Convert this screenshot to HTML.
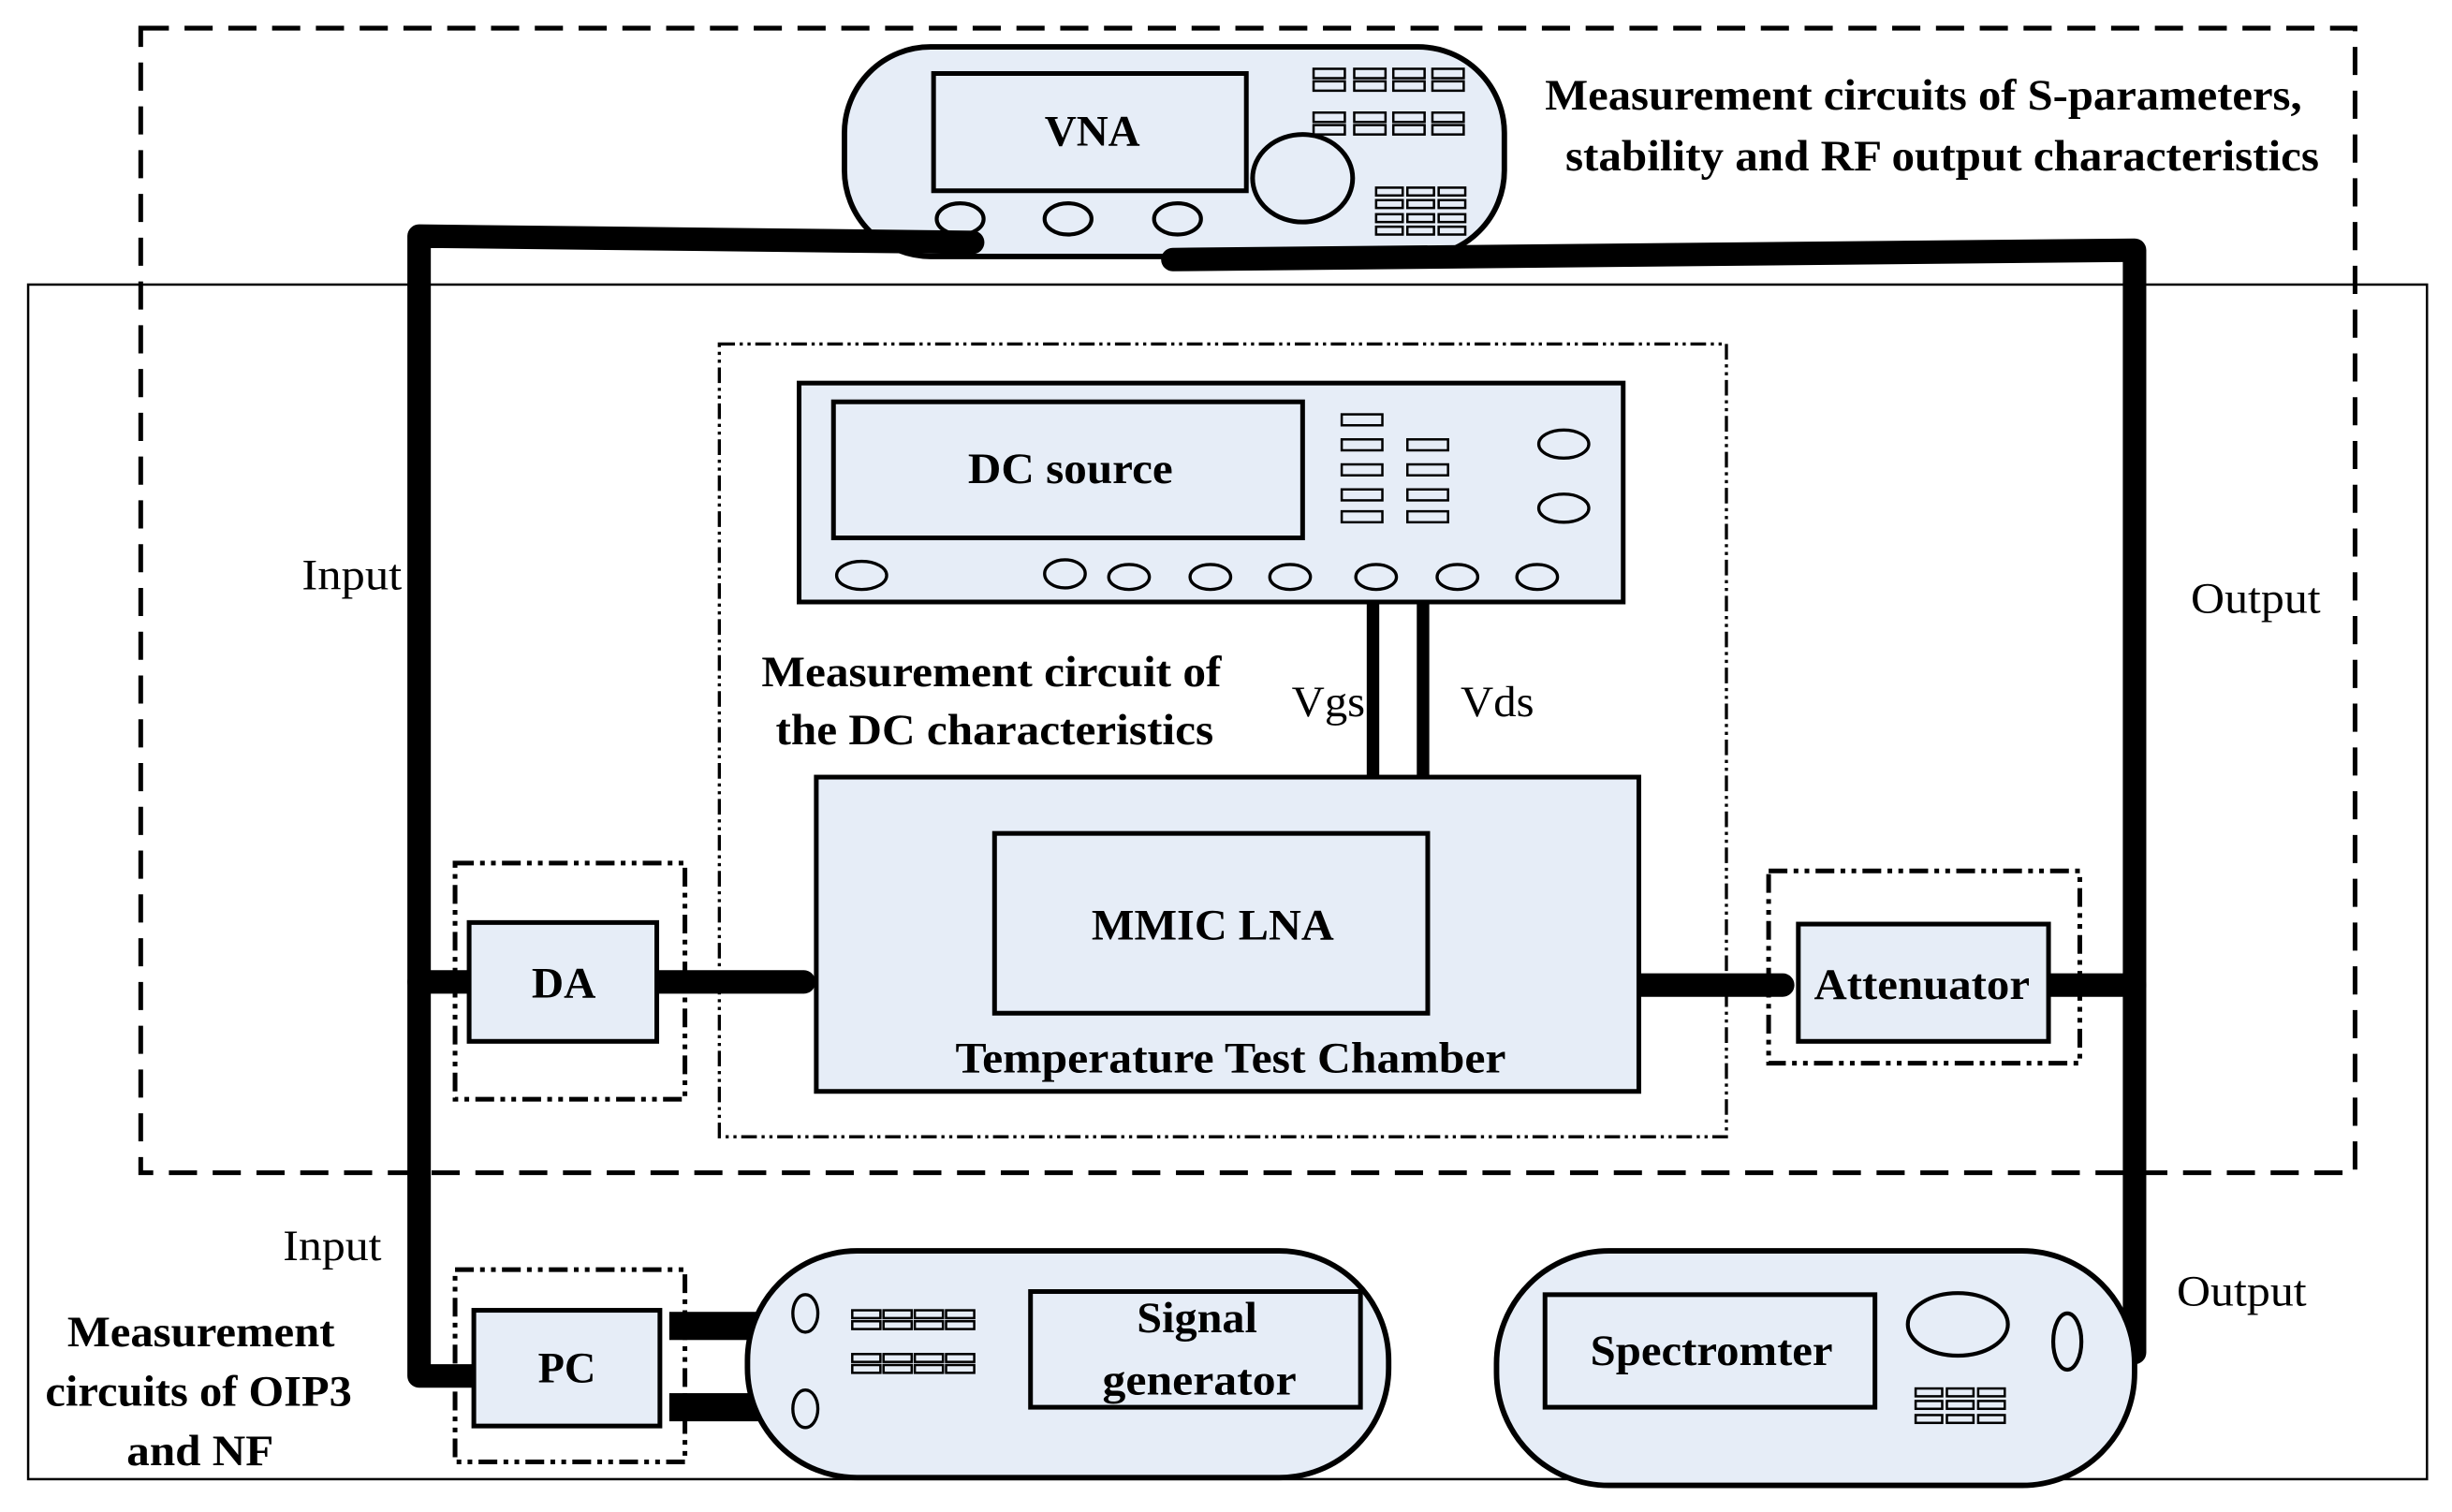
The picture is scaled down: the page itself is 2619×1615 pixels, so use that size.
<!DOCTYPE html>
<html><head><meta charset="utf-8"><style>html,body{margin:0;padding:0;background:#fff}svg{display:block}</style></head><body>
<svg width="2619" height="1615" viewBox="0 0 1568 967" preserveAspectRatio="none" xmlns="http://www.w3.org/2000/svg" font-family="Liberation Serif, serif">
<rect x="18" y="182" width="1534" height="764" fill="none" stroke="#000" stroke-width="1.5"/>
<rect x="90" y="18" width="1416" height="732" fill="none" stroke="#000" stroke-width="3" stroke-dasharray="18,10"/>
<!-- VNA -->
<rect x="540" y="30" width="422" height="134" rx="55" fill="#e6edf7" stroke="#000" stroke-width="3.5"/>
<rect x="597" y="47" width="200" height="75" fill="#e6edf7" stroke="#000" stroke-width="3"/>
<text x="668" y="93" font-size="28" font-weight="bold" textLength="61" lengthAdjust="spacingAndGlyphs">VNA</text>
<g fill="none" stroke="#000" stroke-width="1.5">
<rect x="840" y="44" width="20" height="6"/><rect x="866" y="44" width="20" height="6"/><rect x="891" y="44" width="20" height="6"/><rect x="916" y="44" width="20" height="6"/>
<rect x="840" y="52" width="20" height="6"/><rect x="866" y="52" width="20" height="6"/><rect x="891" y="52" width="20" height="6"/><rect x="916" y="52" width="20" height="6"/>
<rect x="840" y="72" width="20" height="6"/><rect x="866" y="72" width="20" height="6"/><rect x="891" y="72" width="20" height="6"/><rect x="916" y="72" width="20" height="6"/>
<rect x="840" y="80" width="20" height="6"/><rect x="866" y="80" width="20" height="6"/><rect x="891" y="80" width="20" height="6"/><rect x="916" y="80" width="20" height="6"/>
<rect x="880" y="120" width="17" height="5"/><rect x="900" y="120" width="17" height="5"/><rect x="920" y="120" width="17" height="5"/>
<rect x="880" y="128" width="17" height="5"/><rect x="900" y="128" width="17" height="5"/><rect x="920" y="128" width="17" height="5"/>
<rect x="880" y="137" width="17" height="5"/><rect x="900" y="137" width="17" height="5"/><rect x="920" y="137" width="17" height="5"/>
<rect x="880" y="145" width="17" height="5"/><rect x="900" y="145" width="17" height="5"/><rect x="920" y="145" width="17" height="5"/>
</g>
<ellipse cx="833" cy="114" rx="32" ry="28" fill="none" stroke="#000" stroke-width="3"/>
<g fill="none" stroke="#000" stroke-width="2.5"><ellipse cx="614" cy="140" rx="15" ry="10"/><ellipse cx="683" cy="140" rx="15" ry="10"/><ellipse cx="753" cy="140" rx="15" ry="10"/></g>
<text x="988" y="70" font-size="28" font-weight="bold" textLength="484" lengthAdjust="spacingAndGlyphs">Measurement circuits of S-parameters,</text>
<text x="1001" y="109" font-size="28" font-weight="bold" textLength="482" lengthAdjust="spacingAndGlyphs">stability and RF output characteristics</text>
<!-- thick lines -->
<g fill="none" stroke="#000" stroke-width="15" stroke-linejoin="round" stroke-linecap="round">
<path d="M622,155 L268,151 L268,880 L303,880"/>
<path d="M268,628 L300,628"/>
<path d="M750,166 L1365,160 L1365,865"/>
<path d="M1310,630 L1365,630"/>
<path d="M420,628 L514,628"/>
<path d="M1048,630 L1140,630"/>
</g>
<!-- DC box -->
<rect x="460" y="220" width="644" height="507" fill="none" stroke="#000" stroke-width="2" stroke-dasharray="10,3,2,3,2,3"/>
<rect x="511" y="245" width="527" height="140" fill="#e6edf7" stroke="#000" stroke-width="3"/>
<rect x="533" y="257" width="300" height="87" fill="#e6edf7" stroke="#000" stroke-width="3"/>
<text x="619" y="309" font-size="28" font-weight="bold" textLength="131" lengthAdjust="spacingAndGlyphs">DC source</text>
<g fill="none" stroke="#000" stroke-width="1.5">
<rect x="858" y="265" width="26" height="7"/><rect x="858" y="281" width="26" height="7"/><rect x="858" y="297" width="26" height="7"/><rect x="858" y="313" width="26" height="7"/><rect x="858" y="327" width="26" height="7"/>
<rect x="900" y="281" width="26" height="7"/><rect x="900" y="297" width="26" height="7"/><rect x="900" y="313" width="26" height="7"/><rect x="900" y="327" width="26" height="7"/>
</g>
<g fill="none" stroke="#000" stroke-width="2">
<ellipse cx="1000" cy="284" rx="16" ry="9"/><ellipse cx="1000" cy="325" rx="16" ry="9"/>
<ellipse cx="551" cy="368" rx="16" ry="9"/><ellipse cx="681" cy="367" rx="13" ry="9"/><ellipse cx="722" cy="369" rx="13" ry="8"/><ellipse cx="774" cy="369" rx="13" ry="8"/><ellipse cx="825" cy="369" rx="13" ry="8"/><ellipse cx="880" cy="369" rx="13" ry="8"/><ellipse cx="932" cy="369" rx="13" ry="8"/><ellipse cx="983" cy="369" rx="13" ry="8"/>
</g>
<rect x="874" y="385" width="8" height="112" fill="#000"/><rect x="906" y="385" width="8" height="112" fill="#000"/>
<text x="826" y="458" font-size="28" textLength="47" lengthAdjust="spacingAndGlyphs">Vgs</text>
<text x="934" y="458" font-size="28" textLength="47" lengthAdjust="spacingAndGlyphs">Vds</text>
<text x="487" y="439" font-size="28" font-weight="bold" textLength="294" lengthAdjust="spacingAndGlyphs">Measurement circuit of</text>
<text x="496" y="476" font-size="28" font-weight="bold" textLength="280" lengthAdjust="spacingAndGlyphs">the DC characteristics</text>
<rect x="522" y="497" width="526" height="201" fill="#e6edf7" stroke="#000" stroke-width="3"/>
<rect x="636" y="533" width="277" height="115" fill="#e6edf7" stroke="#000" stroke-width="3"/>
<text x="698" y="601" font-size="28" font-weight="bold" textLength="155" lengthAdjust="spacingAndGlyphs">MMIC LNA</text>
<text x="611" y="686" font-size="28" font-weight="bold" textLength="352" lengthAdjust="spacingAndGlyphs">Temperature Test Chamber</text>
<!-- DA -->
<rect x="291" y="552" width="147" height="151" fill="none" stroke="#000" stroke-width="3" stroke-dasharray="12,4,3,4,3,4"/>
<rect x="300" y="590" width="120" height="76" fill="#e6edf7" stroke="#000" stroke-width="3"/>
<text x="340" y="638" font-size="28" font-weight="bold" textLength="41" lengthAdjust="spacingAndGlyphs">DA</text>
<!-- Attenuator -->
<rect x="1131" y="557" width="199" height="123" fill="none" stroke="#000" stroke-width="3" stroke-dasharray="12,4,3,4,3,4"/>
<rect x="1150" y="591" width="160" height="75" fill="#e6edf7" stroke="#000" stroke-width="3"/>
<text x="1160" y="639" font-size="28" font-weight="bold" textLength="138" lengthAdjust="spacingAndGlyphs">Attenuator</text>
<g font-size="28">
<text x="193" y="377" textLength="64" lengthAdjust="spacingAndGlyphs">Input</text>
<text x="1401" y="392" textLength="83" lengthAdjust="spacingAndGlyphs">Output</text>
<text x="181" y="806" textLength="63" lengthAdjust="spacingAndGlyphs">Input</text>
<text x="1392" y="835" textLength="83" lengthAdjust="spacingAndGlyphs">Output</text>
</g>
<!-- PC -->
<rect x="291" y="812" width="147" height="123" fill="none" stroke="#000" stroke-width="3" stroke-dasharray="12,4,3,4,3,4"/>
<rect x="428" y="839" width="60" height="18" fill="#000"/><rect x="428" y="891" width="60" height="18" fill="#000"/>
<rect x="303" y="838" width="119" height="74" fill="#e6edf7" stroke="#000" stroke-width="3"/>
<text x="344" y="884" font-size="28" font-weight="bold" textLength="37" lengthAdjust="spacingAndGlyphs">PC</text>
<!-- Signal generator -->
<rect x="478" y="800" width="410" height="145" rx="70" fill="#e6edf7" stroke="#000" stroke-width="3.5"/>
<g fill="none" stroke="#000" stroke-width="2"><ellipse cx="515" cy="840" rx="8" ry="12"/><ellipse cx="515" cy="901" rx="8" ry="12"/></g>
<g fill="none" stroke="#000" stroke-width="1.5">
<rect x="545" y="838" width="18" height="5"/><rect x="545" y="845" width="18" height="5"/><rect x="565" y="838" width="18" height="5"/><rect x="585" y="838" width="18" height="5"/><rect x="605" y="838" width="18" height="5"/><rect x="565" y="845" width="18" height="5"/><rect x="585" y="845" width="18" height="5"/><rect x="605" y="845" width="18" height="5"/>
<rect x="545" y="866" width="18" height="5"/><rect x="545" y="873" width="18" height="5"/><rect x="565" y="866" width="18" height="5"/><rect x="585" y="866" width="18" height="5"/><rect x="605" y="866" width="18" height="5"/><rect x="565" y="873" width="18" height="5"/><rect x="585" y="873" width="18" height="5"/><rect x="605" y="873" width="18" height="5"/>
</g>
<rect x="659" y="826" width="211" height="74" fill="#e6edf7" stroke="#000" stroke-width="3"/>
<text x="727" y="852" font-size="28" font-weight="bold" textLength="77" lengthAdjust="spacingAndGlyphs">Signal</text>
<text x="705" y="892" font-size="28" font-weight="bold" textLength="124" lengthAdjust="spacingAndGlyphs">generator</text>
<!-- Spectrometer -->
<rect x="957" y="800" width="408" height="150" rx="72" fill="#e6edf7" stroke="#000" stroke-width="3.5"/>
<rect x="988" y="828" width="211" height="72" fill="#e6edf7" stroke="#000" stroke-width="3"/>
<text x="1017" y="873" font-size="28" font-weight="bold" textLength="155" lengthAdjust="spacingAndGlyphs">Spectromter</text>
<g fill="none" stroke="#000" stroke-width="2.5"><ellipse cx="1252" cy="847" rx="32" ry="20"/><ellipse cx="1322" cy="858" rx="9" ry="18"/></g>
<g fill="none" stroke="#000" stroke-width="1.5">
<rect x="1225" y="888" width="17" height="5"/><rect x="1245" y="888" width="17" height="5"/><rect x="1265" y="888" width="17" height="5"/>
<rect x="1225" y="896" width="17" height="5"/><rect x="1245" y="896" width="17" height="5"/><rect x="1265" y="896" width="17" height="5"/>
<rect x="1225" y="905" width="17" height="5"/><rect x="1245" y="905" width="17" height="5"/><rect x="1265" y="905" width="17" height="5"/>
</g>
<g font-size="28" font-weight="bold">
<text x="43" y="861" textLength="171" lengthAdjust="spacingAndGlyphs">Measurement</text>
<text x="29" y="899" textLength="196" lengthAdjust="spacingAndGlyphs">circuits of OIP3</text>
<text x="81" y="937" textLength="94" lengthAdjust="spacingAndGlyphs">and NF</text>
</g>
</svg>
</body></html>
